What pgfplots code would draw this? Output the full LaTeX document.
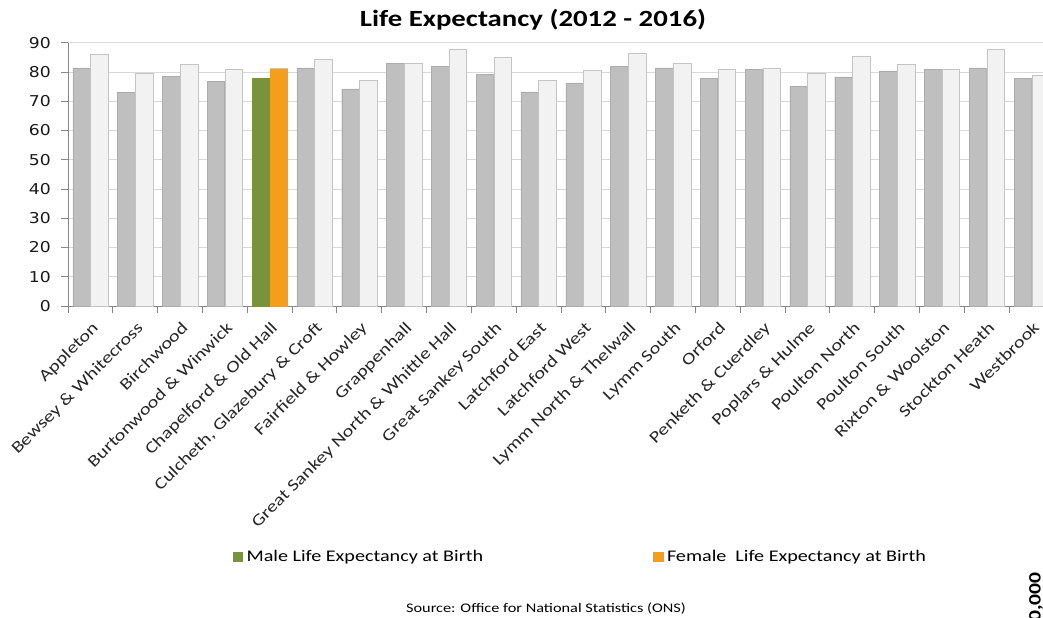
\documentclass[border=0pt]{standalone}
\usepackage{fontspec}
\setmainfont{Carlito}[FakeStretch=1.24]
\newfontfamily\dejavu{DejaVu Sans}[FakeStretch=1.15]
\usepackage{pgfplots}
\pgfplotsset{compat=1.18}
\usepackage{pgfplotstable}
\definecolor{malegray}{HTML}{BFBFBF}
\definecolor{femgray}{HTML}{F2F2F2}
\definecolor{bordergray}{HTML}{C4C4C4}
\definecolor{axisgray}{HTML}{868686}
\definecolor{gridgray}{HTML}{D9D9D9}
\definecolor{hlgreen}{HTML}{77933C}
\definecolor{hlorange}{HTML}{F59E1B}

\pgfplotstableread{
x male female
0 81.4 86.0
1 73.1 79.7
2 78.4 82.5
3 76.7 80.9
4 78.0 81.1
5 81.4 84.4
6 74.2 77.2
7 82.9 82.9
8 81.9 87.9
9 79.2 85.0
10 73.2 77.2
11 76.3 80.4
12 81.9 86.5
13 81.4 82.9
14 77.7 80.9
15 80.8 81.4
16 75.2 79.7
17 78.3 85.5
18 80.4 82.5
19 80.9 80.9
20 81.4 87.6
21 77.7 78.8
}\lifedata

\pgfplotstableread{
x male female
4 78.0 81.1
}\highlight

\begin{document}
\begin{tikzpicture}[x=1bp,y=1bp]
\begin{axis}[
  at={(68bp,312bp)}, anchor=south west,
  scale only axis, width=986bp, height=263.3bp,
  xmin=-0.5, xmax=21.5, ymin=0, ymax=90,
  ytick={0,10,...,90},
  xtick={-0.5,0.5,...,21.5},
  x tick label as interval,
  xticklabels={Appleton, Bewsey \& Whitecross, Birchwood, Burtonwood \& Winwick,
    Chapelford \& Old Hall, {Culcheth, Glazebury \& Croft}, Fairfield \& Howley,
    Grappenhall, Great Sankey North \& Whittle Hall, Great Sankey South,
    Latchford East, Latchford West, Lymm North \& Thelwall, Lymm South, Orford,
    Penketh \& Cuerdley, Poplars \& Hulme, Poulton North, Poulton South,
    Rixton \& Woolston, Stockton Heath, Westbrook},
  xticklabel style={anchor=north east, inner sep=0pt,
    font=\fontsize{16.5}{17}\selectfont, text=black!85,
    xshift=0.5bp, yshift=-7.5bp, rotate=45},
  yticklabel style={font=\dejavu\fontsize{15}{15}\selectfont, text=black!90,
    inner sep=0pt, xshift=-10bp},
  /pgf/number format/assume math mode=true,
  axis x line*=bottom, axis y line*=left,
  axis line style={draw=axisgray, line width=0.9bp, -},
  tick align=outside, major tick length=7bp,
  tick style={draw=axisgray, line width=0.9bp},
  ymajorgrids, grid style={draw=gridgray, line width=0.8bp},
  clip=false,
  legend columns=2,
  legend style={at={(0.1668,-0.953)}, anchor=west, draw=none, fill=none,
    inner sep=0pt, font=\fontsize{16.3}{17}\selectfont,
    /tikz/every even column/.append style={column sep=168bp},
    /tikz/every odd column/.append style={column sep=2bp}},
  legend cell align=left,
  legend image code/.code={\fill[#1] (0bp,-4.5bp) rectangle (9.5bp,4.5bp);},
]
\addplot[ybar, bar width=17.4bp, bar shift=-8.9bp, fill=malegray, draw=malegray!90!black, line width=0.4bp, forget plot]
  table[x=x, y=male] {\lifedata};
\addplot[ybar, bar width=17.6bp, bar shift=9bp, fill=femgray, draw=bordergray, line width=0.6bp, forget plot]
  table[x=x, y=female] {\lifedata};
\addplot[ybar, bar width=17.4bp, bar shift=-8.9bp, fill=hlgreen, draw=hlgreen]
  table[x=x, y=male] {\highlight};
\addlegendentry{Male Life Expectancy at Birth}
\addplot[ybar, bar width=17.6bp, bar shift=9bp, fill=hlorange, draw=hlorange]
  table[x=x, y=female] {\highlight};
\addlegendentry{Female\ \ Life Expectancy at Birth}
\end{axis}
\node[font=\bfseries\fontsize{23.3}{24}\selectfont, anchor=base] at (533bp,591bp) {Life Expectancy (2012 - 2016)};
\node[font=\fontsize{13.2}{14}\selectfont, anchor=base] at (546bp,6bp) {Source: Office for National Statistics (ONS)};
\node[font=\bfseries\fontsize{17.5}{18}\selectfont, rotate=90, anchor=east, inner sep=0pt] at (1036bp,46bp) {100,000};
\pgfresetboundingbox
\useasboundingbox (0bp,0bp) rectangle (1043bp,618bp);
\end{tikzpicture}
\end{document}
